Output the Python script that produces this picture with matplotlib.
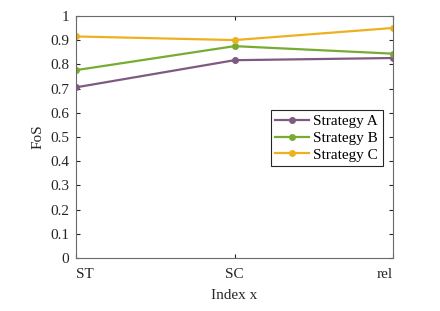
import matplotlib
matplotlib.use("Agg")
import matplotlib.pyplot as plt

plt.rcParams['font.family'] = ['Liberation Serif', 'DejaVu Serif']

categories = ['ST', 'SC', 'rel']
strategy_a = [0.705, 0.817, 0.826]
strategy_b = [0.776, 0.875, 0.844]
strategy_c = [0.915, 0.900, 0.950]

fig = plt.figure(figsize=(4.4, 3.11), dpi=100)
ax = fig.add_axes([0.173, 0.170, 0.720, 0.779])

x = range(len(categories))
ax.plot(x, strategy_a, color='#7e5a80', marker='o', markersize=4, lw=1.6, label='Strategy A')
ax.plot(x, strategy_b, color='#77ac30', marker='o', markersize=4, lw=1.6, label='Strategy B')
ax.plot(x, strategy_c, color='#edb120', marker='o', markersize=4, lw=1.6, label='Strategy C')

ax.set_xlim(0, 2)
ax.set_ylim(0, 1)
ax.set_xticks(list(x))
ax.set_xticklabels(categories)
# labels at the ends sit inside the axes, like the reference
for lbl, ha in zip(ax.get_xticklabels(), ['left', 'center', 'right']):
    lbl.set_horizontalalignment(ha)
ax.set_yticks([i / 10 for i in range(11)])
ax.set_yticklabels(['0', '0.1', '0.2', '0.3', '0.4', '0.5', '0.6', '0.7', '0.8', '0.9', '1'])
ax.tick_params(direction='in', top=True, right=True, labelsize=11, colors='#262626', length=3)
ax.tick_params(axis='x', pad=7)
ax.tick_params(axis='y', pad=5)
for s in ax.spines.values():
    s.set_color('#6a6a6a')
    s.set_linewidth(0.8)

ax.set_xlabel('Index x', fontsize=11, color='#262626', labelpad=6)
ax.set_ylabel('FoS', fontsize=11, color='#262626', labelpad=4)

leg = ax.legend(loc='upper right', bbox_to_anchor=(0.968, 0.612), fontsize=11,
                fancybox=False, edgecolor='#262626', framealpha=1,
                handlelength=2.2, borderpad=0.3, labelspacing=0.2, handletextpad=0.3,
                borderaxespad=0)
leg.get_frame().set_linewidth(0.8)

fig.savefig('out.png', dpi=100)
